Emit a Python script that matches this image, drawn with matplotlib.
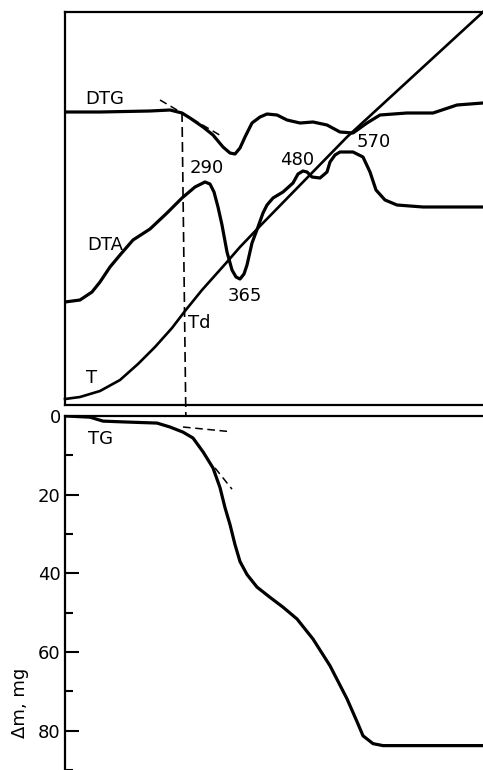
import matplotlib
matplotlib.use("Agg")
import matplotlib.pyplot as plt
import numpy as np

#----------- Gögn lesin af myndinni -----------#
# x: tími/hitastig í handahófskenndum einingum (engir x-ásar merktir)
dtg_x = [0, 35, 85, 105, 117, 125, 138, 148, 158, 165, 170, 175, 180, 187, 195, 202, 212, 222, 235, 248,
         262, 275, 288, 302, 315, 342, 368, 392, 418]
dtg_y = [293, 293, 294, 295, 292, 287, 278, 270, 258, 252, 251, 257, 268, 282, 288, 291, 290, 285, 282, 283,
         280, 273, 272, 282, 290, 292, 292, 300, 302]

dta_x = [0, 15, 27, 35, 45, 55, 68, 85, 102, 117, 130, 140, 145, 149, 153, 157, 162, 167, 171, 175, 179, 182,
         187, 193, 198, 202, 208, 218, 228, 233, 238, 242, 247, 255, 262, 265, 270, 275, 288, 298, 305, 311,
         320, 332, 358, 418]
dta_y = [103, 105, 113, 123, 138, 150, 165, 176, 192, 207, 218, 223, 221, 213, 198, 180, 153, 135, 128, 126,
         131, 140, 162, 178, 192, 200, 207, 213, 222, 231, 234, 233, 228, 227, 233, 243, 250, 253, 253, 248,
         233, 215, 205, 200, 198, 198]

t_x = [0, 15, 35, 55, 73, 90, 107, 120, 137, 162, 175, 197, 282, 418]
t_y = [6, 8, 14, 25, 41, 58, 77, 94, 115, 143, 158, 181, 268, 393]

tg_x = [1, 25, 38, 58, 92, 105, 118, 128, 138, 148, 155, 160, 165, 170, 175, 182, 192, 205, 218, 232, 248,
        265, 282, 292, 298, 308, 318, 418]
tg_m = [0, 0.3, 1.3, 1.5, 1.8, 2.8, 4.1, 5.6, 9.1, 13.2, 18.2, 23.3, 27.6, 32.7, 37.0, 40.3, 43.5, 46.1,
        48.6, 51.6, 56.7, 63.5, 71.9, 77.7, 81.3, 83.3, 83.8, 83.8]

# snertlar og Td-lína
td_x = [117, 121]
td_y = [293, -23]
dtg_tan_x = [95, 158]
dtg_tan_y = [305, 268]
tg_tan1_x = [118, 162]
tg_tan1_m = [2.8, 3.9]
tg_tan2_x = [150, 167]
tg_tan2_m = [13.2, 18.6]

m_ticks = [0, 20, 40, 60, 80]
m_minor = [10, 30, 50, 70, 90]

#----------- Teikning -----------#
W, H = 483, 770
fig = plt.figure(figsize=(W / 100, H / 100), dpi=100)
plt.rcParams['font.family'] = ['DejaVu Sans']

ax1 = fig.add_axes([65 / W, (H - 405) / H, (W - 65) / W, (405 - 12) / H])
ax2 = fig.add_axes([65 / W, 0, (W - 65) / W, (H - 416) / H])

lw = 2.3
ax1.plot(dtg_x, dtg_y, color='black', lw=lw, solid_joinstyle='round', solid_capstyle='round')
ax1.plot(dta_x, dta_y, color='black', lw=lw, solid_joinstyle='round', solid_capstyle='round')
ax1.plot(t_x, t_y, color='black', lw=1.9, solid_joinstyle='round', clip_on=False)
ax1.plot(dtg_tan_x, dtg_tan_y, color='black', lw=1.1, ls=(0, (5, 3)))
ax1.plot(td_x, td_y, color='black', lw=1.2, ls=(0, (6, 3)), clip_on=False)

ax1.set_xlim(0, 418)
ax1.set_ylim(0, 393)
ax1.set_xticks([])
ax1.set_yticks([])
ax1.spines['right'].set_visible(False)
for s in ['left', 'top', 'bottom']:
    ax1.spines[s].set_linewidth(1.6)

fs = 13
ax1.text(40, 306, 'DTG', fontsize=fs, ha='center', va='center')
ax1.text(142, 237, '290', fontsize=fs, ha='center', va='center')
ax1.text(40, 160, 'DTA', fontsize=fs, ha='center', va='center')
ax1.text(180, 109, '365', fontsize=fs, ha='center', va='center')
ax1.text(123, 82, 'Td', fontsize=fs, ha='left', va='center')
ax1.text(27, 27, 'T', fontsize=fs, ha='center', va='center')
ax1.text(232, 245, '480', fontsize=fs, ha='center', va='center')
ax1.text(309, 263, '570', fontsize=fs, ha='center', va='center')

ax2.plot(tg_x, tg_m, color='black', lw=lw, solid_joinstyle='round', solid_capstyle='round')
ax2.plot(tg_tan1_x, tg_tan1_m, color='black', lw=1.1, ls=(0, (5, 3)))
ax2.plot(tg_tan2_x, tg_tan2_m, color='black', lw=1.1, ls=(0, (5, 3)))
ax2.text(36, 5.9, 'TG', fontsize=fs, ha='center', va='center')

ax2.set_xlim(0, 418)
ax2.set_ylim(89.6, 0)
ax2.set_xticks([])
ax2.set_yticks(m_ticks)
ax2.set_yticks(m_minor, minor=True)
ax2.tick_params(axis='y', which='major', direction='in', length=10, width=1.5, pad=3, labelsize=fs)
ax2.tick_params(axis='y', which='minor', direction='in', length=6, width=1.5)
ax2.spines['right'].set_visible(False)
ax2.spines['bottom'].set_visible(False)
ax2.spines['left'].set_linewidth(1.6)
ax2.spines['top'].set_linewidth(1.6)

fig.text(20 / W, 1 - 703 / H, 'Δm, mg', fontsize=fs, rotation=90, ha='center', va='center')

fig.savefig('out.png', dpi=100)
